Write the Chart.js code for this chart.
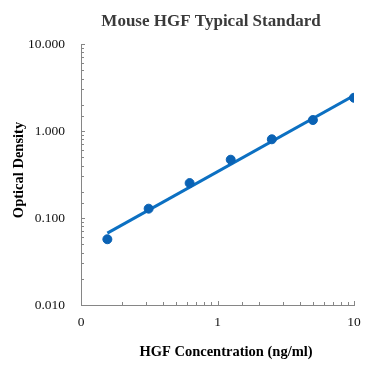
<!DOCTYPE html>
<html>
<head>
<meta charset="utf-8">
<script src="https://cdn.jsdelivr.net/npm/chart.js@4/dist/chart.umd.min.js"></script>
<style>
  html, body { margin: 0; padding: 0; background: #fff; }
  #wrap { width: 379px; height: 380px; position: relative; }
</style>
</head>
<body>
<div id="wrap"><canvas id="c" width="379" height="380"></canvas></div>
<script>
// ---- data ----
const chartTitle = "Mouse HGF Typical Standard";
const xTitle = "HGF Concentration (ng/ml)";
const yTitle = "Optical Density";
const concentrations = [0.156, 0.313, 0.625, 1.25, 2.5, 5, 10];
const odValues = [0.057, 0.128, 0.252, 0.468, 0.803, 1.337, 2.41];
const trendX = [0.156, 10];
const trendY = [0.067, 2.56];
const xTickLabels = {0.1: "0", 1: "1", 10: "10"};
const yTickLabels = {0.01: "0.010", 0.1: "0.100", 1: "1.000", 10: "10.000"};

const serif = '"Liberation Serif", "Times New Roman", serif';
const axisGray = '#868686';

function isPow10(v) {
  const l = Math.log10(v);
  return Math.abs(l - Math.round(l)) < 1e-6;
}
function labelFor(map, v) {
  for (const k in map) { if (Math.abs(Number(k) - v) < 1e-9) return map[k]; }
  return '';
}

const decorPlugin = {
  id: 'decor',
  afterDraw(chart) {
    const ctx = chart.ctx;
    const xs = chart.scales.x, ys = chart.scales.y;
    const area = chart.chartArea;
    ctx.save();
    // inner tick marks
    ctx.strokeStyle = axisGray;
    ctx.lineWidth = 1;
    ctx.beginPath();
    ys.ticks.forEach(t => {
      const y = Math.round(ys.getPixelForValue(t.value)) + 0.5;
      const len = isPow10(t.value) ? 4 : 3;
      ctx.moveTo(area.left, y); ctx.lineTo(area.left + len, y);
    });
    xs.ticks.forEach(t => {
      const x = Math.round(xs.getPixelForValue(t.value)) + 0.5;
      const len = isPow10(t.value) ? 4 : 3;
      ctx.moveTo(x, area.bottom); ctx.lineTo(x, area.bottom - len);
    });
    ctx.stroke();
    // titles
    ctx.textAlign = 'center';
    ctx.textBaseline = 'middle';
    ctx.fillStyle = '#3a3a3a';
    ctx.font = 'bold 17px ' + serif;
    ctx.fillText(chartTitle, 211, 22);
    ctx.fillStyle = '#000';
    ctx.font = 'bold 14.5px ' + serif;
    ctx.fillText(xTitle, 226, 352);
    ctx.translate(19, 170);
    ctx.rotate(-Math.PI / 2);
    ctx.fillText(yTitle, 0, 0);
    ctx.restore();
  }
};

new Chart(document.getElementById('c'), {
  type: 'scatter',
  data: {
    datasets: [
      {
        label: 'OD',
        data: concentrations.map((x, i) => ({x: x, y: odValues[i]})),
        backgroundColor: '#0a62b4',
        borderColor: '#0a62b4',
        pointRadius: 4.5,
        pointHoverRadius: 4.5,
        order: 0
      },
      {
        label: 'Trend',
        data: trendX.map((x, i) => ({x: x, y: trendY[i]})),
        showLine: true,
        borderColor: '#0c70c2',
        borderWidth: 3,
        pointRadius: 0,
        fill: false,
        order: 1
      }
    ]
  },
  options: {
    responsive: false,
    animation: false,
    events: [],
    layout: { padding: { top: 44, right: 25, left: 0, bottom: 0 } },
    plugins: { legend: { display: false }, title: { display: false }, tooltip: { enabled: false } },
    scales: {
      x: {
        type: 'logarithmic',
        min: 0.1, max: 10,
        afterFit: s => { s.height = 75; },
        grid: { display: false, drawTicks: false },
        border: { display: true, color: axisGray, width: 1 },
        ticks: {
          autoSkip: false, maxRotation: 0, padding: 9,
          color: '#111',
          font: { family: serif, size: 13.5 },
          callback: v => labelFor(xTickLabels, v)
        }
      },
      y: {
        type: 'logarithmic',
        min: 0.01, max: 10,
        afterFit: s => { s.width = 81; },
        grid: { display: false, drawTicks: false },
        border: { display: true, color: axisGray, width: 1 },
        ticks: {
          autoSkip: false, padding: 16,
          color: '#111',
          font: { family: serif, size: 13.5 },
          callback: v => labelFor(yTickLabels, v)
        }
      }
    }
  },
  plugins: [decorPlugin]
});
</script>
</body>
</html>
